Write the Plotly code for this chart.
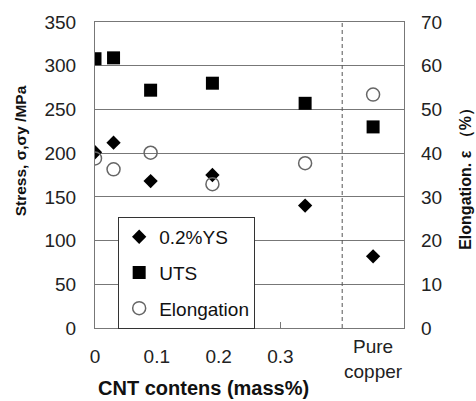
import plotly.graph_objects as go

# ---- data ----
cnt_x = [0, 0.03, 0.09, 0.19, 0.34, 0.45]   # last = pure copper position
ys_vals = [201, 212, 168, 175, 140, 82]
uts_vals = [308, 309, 272, 280, 257, 230]
elong_vals = [38.8, 36.3, 40.1, 32.9, 37.7, 53.4]
x_tickvals = [0, 0.1, 0.2, 0.3]
x_ticktext = ["0", "0.1", "0.2", "0.3"]
pure_label = "Pure<br>copper"
pure_pos = 0.45
divider_x = 0.4

FONT = "Liberation Sans, Arial, sans-serif"
GRID = "#777777"

fig = go.Figure()
fig.add_trace(go.Scatter(x=cnt_x, y=ys_vals, mode="markers", name="0.2%YS",
                         legendgroup="a",
                         marker=dict(symbol="diamond", size=11, color="black")))
fig.add_trace(go.Scatter(x=cnt_x, y=uts_vals, mode="markers", name="UTS",
                         legendgroup="b",
                         marker=dict(symbol="square", size=13, color="black")))
fig.add_trace(go.Scatter(x=cnt_x, y=elong_vals, mode="markers", name="Elongation",
                         legendgroup="c", yaxis="y2",
                         marker=dict(symbol="circle-open", size=13, color="#666666",
                                     line=dict(width=1.5, color="#666666"))))

fig.add_shape(type="line", xref="x", yref="paper", x0=divider_x, x1=divider_x,
              y0=0, y1=1, line=dict(color="#555555", width=1, dash="4px,3px"))

fig.add_annotation(x=pure_pos, xref="x", y=-0.02, yref="paper", text=pure_label,
                   showarrow=False, yanchor="top",
                   font=dict(family=FONT, size=19, color="#222"))
fig.add_annotation(x=0.175, xref="x", y=-0.195, yref="paper",
                   text="<b>CNT contens (mass%)</b>", showarrow=False,
                   yanchor="middle", font=dict(family=FONT, size=20, color="#111"))
fig.add_annotation(x=-0.24, xref="paper", y=0.58, yref="paper", xanchor="center",
                   text="<b>Stress, σ,σy /MPa</b>", showarrow=False, textangle=-90,
                   font=dict(family=FONT, size=15.5, color="#111"))
fig.add_annotation(x=1.2, xref="paper", y=0.5, yref="paper", xanchor="center",
                   text="<b>Elongation. ε （%）</b>", showarrow=False, textangle=-90,
                   font=dict(family=FONT, size=16, color="#111"))

fig.update_layout(
    width=476, height=401,
    margin=dict(l=95, r=72, t=19, b=73),
    paper_bgcolor="white", plot_bgcolor="white",
    font=dict(family=FONT, size=19, color="#222"),
    showlegend=True,
    legend=dict(x=0.075, y=0.363, xanchor="left", yanchor="top",
                bgcolor="white", bordercolor="#333", borderwidth=1,
                font=dict(family=FONT, size=19, color="#111"),
                tracegroupgap=8, traceorder="grouped", itemwidth=30),
    xaxis=dict(range=[0, 0.5], tickvals=x_tickvals, ticktext=x_ticktext,
               showgrid=False, zeroline=False, showline=True, linecolor=GRID,
               mirror=True, ticks="inside", ticklen=6, tickcolor=GRID,
               ticklabelstandoff=11, tickfont=dict(size=19)),
    yaxis=dict(range=[0, 350], dtick=50, showgrid=True, gridcolor=GRID,
               zeroline=False, showline=True, linecolor=GRID, mirror=True,
               ticks="", ticklabelstandoff=14, tickfont=dict(size=19)),
    yaxis2=dict(range=[0, 70], dtick=10, overlaying="y", side="right",
                showgrid=False, zeroline=False, showline=False, ticks="",
                ticklabelstandoff=16, tickfont=dict(size=19)),
)

fig.write_html("out.html")
